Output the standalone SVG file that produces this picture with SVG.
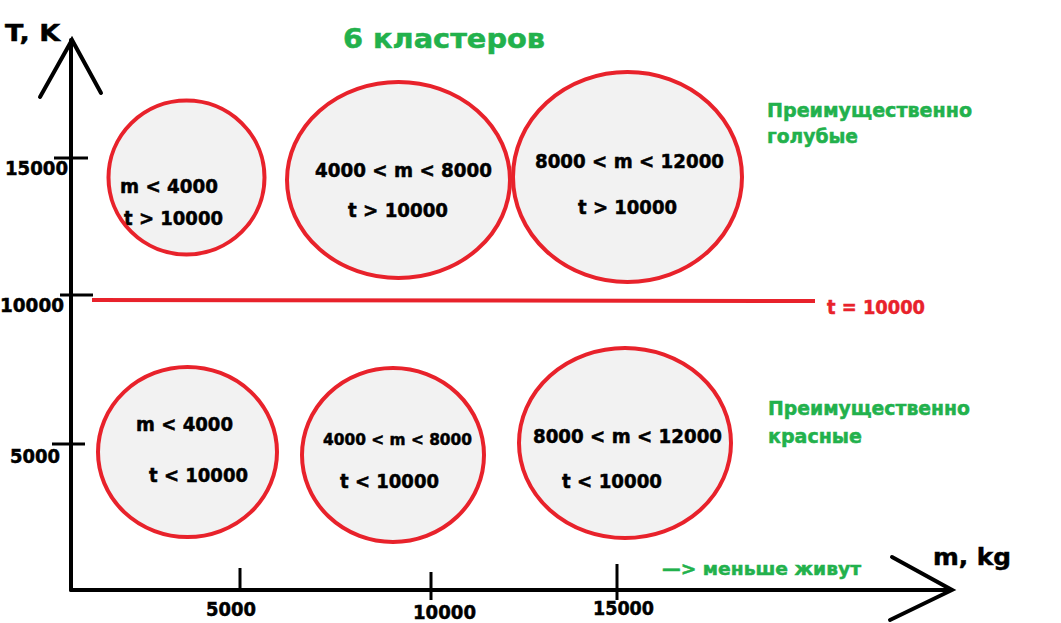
<svg xmlns="http://www.w3.org/2000/svg" width="1061" height="623" viewBox="0 0 1061 623">
<style>
text{font-family:"DejaVu Sans","Liberation Sans",sans-serif;font-weight:bold;fill:#000;stroke:#000;stroke-width:0.5;paint-order:stroke}
.g{fill:#22b14c;stroke:#22b14c}
.r{fill:#e8222b;stroke:#e8222b}
.ax{stroke:#000;stroke-width:4;fill:none;stroke-linecap:round}
.tk{stroke:#000;stroke-width:3;fill:none}
.cl{fill:#f2f2f2;stroke:#e8222b;stroke-width:4}
</style>
<rect width="1061" height="623" fill="#fff"/>
<g id="connectors">
<line class="ax" x1="71" y1="40" x2="71" y2="590"/>
<polyline class="ax" points="40,97 72,40 101,93"/>
<line class="ax" x1="71" y1="590" x2="950" y2="590"/>
<polyline class="ax" points="892,557 952,590 890,620"/>
<line class="tk" x1="54" y1="158" x2="88" y2="158"/>
<line class="tk" x1="60" y1="295" x2="93" y2="295"/>
<line class="tk" x1="52" y1="444" x2="85" y2="444"/>
<line class="tk" x1="240" y1="568" x2="240" y2="590"/>
<line class="tk" x1="431" y1="572" x2="431" y2="600"/>
<line class="tk" x1="617" y1="564" x2="617" y2="600"/>
<line x1="92" y1="300" x2="815" y2="301" stroke="#e8222b" stroke-width="4"/>
</g>
<g id="axis-labels">
<text x="5" y="41" font-size="23" textLength="55" lengthAdjust="spacingAndGlyphs">T, K</text>
<text x="933" y="565" font-size="23" textLength="78" lengthAdjust="spacingAndGlyphs">m, kg</text>
<text x="5" y="175" font-size="19" textLength="63" lengthAdjust="spacingAndGlyphs">15000</text>
<text x="0" y="312" font-size="19" textLength="64" lengthAdjust="spacingAndGlyphs">10000</text>
<text x="10" y="463" font-size="19" textLength="50" lengthAdjust="spacingAndGlyphs">5000</text>
<text x="206" y="616" font-size="19" textLength="50" lengthAdjust="spacingAndGlyphs">5000</text>
<text x="413" y="619" font-size="19" textLength="63" lengthAdjust="spacingAndGlyphs">10000</text>
<text x="593" y="615" font-size="19" textLength="61" lengthAdjust="spacingAndGlyphs">15000</text>
</g>
<g id="title"><text class="g" x="343" y="48" font-size="27" textLength="202" lengthAdjust="spacingAndGlyphs">6 кластеров</text></g>
<g id="label-blue">
<text class="g" x="767" y="117" font-size="19" textLength="205" lengthAdjust="spacingAndGlyphs">Преимущественно</text>
<text class="g" x="767" y="143" font-size="19" textLength="91" lengthAdjust="spacingAndGlyphs">голубые</text>
</g>
<g id="label-red">
<text class="g" x="768" y="415" font-size="19" textLength="202" lengthAdjust="spacingAndGlyphs">Преимущественно</text>
<text class="g" x="768" y="443" font-size="19" textLength="94" lengthAdjust="spacingAndGlyphs">красные</text>
</g>
<g id="label-line"><text class="r" x="827" y="314" font-size="20" textLength="98" lengthAdjust="spacingAndGlyphs">t = 10000</text></g>
<g id="label-life"><text class="g" x="662" y="575" font-size="18" textLength="199" lengthAdjust="spacingAndGlyphs">—&gt; меньше живут</text></g>
<g id="c1">
<ellipse class="cl" cx="186.5" cy="177.5" rx="78" ry="77"/>
<text x="120" y="193" font-size="19" textLength="98" lengthAdjust="spacingAndGlyphs">m &lt; 4000</text>
<text x="124" y="225" font-size="19" textLength="99" lengthAdjust="spacingAndGlyphs">t &gt; 10000</text>
</g>
<g id="c2">
<ellipse class="cl" cx="398.5" cy="180" rx="111.5" ry="98"/>
<text x="315" y="177" font-size="19" textLength="177" lengthAdjust="spacingAndGlyphs">4000 &lt; m &lt; 8000</text>
<text x="348" y="217" font-size="19" textLength="100" lengthAdjust="spacingAndGlyphs">t &gt; 10000</text>
</g>
<g id="c3">
<ellipse class="cl" cx="627.5" cy="177" rx="114.5" ry="105"/>
<text x="535" y="168" font-size="19" textLength="189" lengthAdjust="spacingAndGlyphs">8000 &lt; m &lt; 12000</text>
<text x="578" y="214" font-size="19" textLength="99" lengthAdjust="spacingAndGlyphs">t &gt; 10000</text>
</g>
<g id="c4">
<ellipse class="cl" cx="187.5" cy="452" rx="89.5" ry="85"/>
<text x="136" y="431" font-size="19" textLength="97" lengthAdjust="spacingAndGlyphs">m &lt; 4000</text>
<text x="149" y="482" font-size="19" textLength="99" lengthAdjust="spacingAndGlyphs">t &lt; 10000</text>
</g>
<g id="c5">
<ellipse class="cl" cx="393" cy="455" rx="91" ry="87"/>
<text x="323" y="445" font-size="16" textLength="149" lengthAdjust="spacingAndGlyphs">4000 &lt; m &lt; 8000</text>
<text x="340" y="488" font-size="19" textLength="99" lengthAdjust="spacingAndGlyphs">t &lt; 10000</text>
</g>
<g id="c6">
<ellipse class="cl" cx="625" cy="443" rx="106" ry="95"/>
<text x="533" y="443" font-size="19" textLength="189" lengthAdjust="spacingAndGlyphs">8000 &lt; m &lt; 12000</text>
<text x="562" y="488" font-size="19" textLength="100" lengthAdjust="spacingAndGlyphs">t &lt; 10000</text>
</g>
</svg>
